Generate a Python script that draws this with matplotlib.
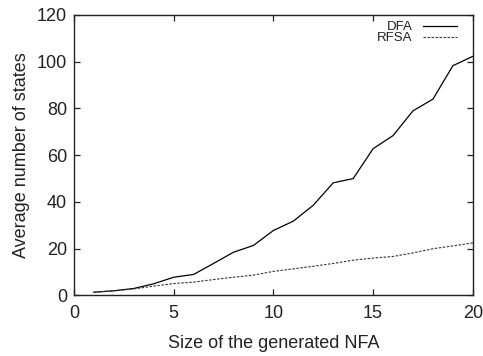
import matplotlib
matplotlib.use("Agg")
import matplotlib.pyplot as plt

plt.rcParams['font.family'] = ['Liberation Sans', 'DejaVu Sans']

# NFA size vs. average number of states of the resulting automata
nfa_size = list(range(1, 21))
dfa_states = [1.4, 2.0, 3.0, 5.0, 7.8, 9.0, 13.7, 18.5, 21.4, 27.8,
              31.8, 38.6, 48.2, 50.0, 62.8, 68.4, 79.0, 84.0, 98.3, 102.3]
rfsa_states = [1.4, 2.0, 2.8, 4.0, 5.1, 5.7, 6.8, 7.8, 8.7, 10.3,
               11.4, 12.5, 13.7, 15.1, 16.0, 16.7, 18.2, 20.0, 21.2, 22.5]

x_ticks = [0, 5, 10, 15, 20]
y_ticks = [0, 20, 40, 60, 80, 100, 120]

fig = plt.figure(figsize=(4.83, 3.56), dpi=100)
ax = fig.add_axes([0.153, 0.170, 0.826, 0.788])

ax.plot(nfa_size, dfa_states, color='black', linewidth=0.9, label='DFA')
ax.plot(nfa_size, rfsa_states, color='#333333', linewidth=0.8,
        linestyle=(0, (2.2, 1.4)), label='RFSA')

ax.set_xlim(0, 20)
ax.set_ylim(0, 120)
ax.set_xticks(x_ticks)
ax.set_yticks(y_ticks)
ax.tick_params(direction='in', length=4, width=0.9, top=True, right=True,
               labelsize=13, colors='#222222', pad=5)
ax.tick_params(axis='x', pad=7)
for sp in ax.spines.values():
    sp.set_linewidth(1.0)
    sp.set_color('#222222')

ax.set_xlabel('Size of the generated NFA', fontsize=13, color='#222222', labelpad=9.5)
ax.set_ylabel('Average number of states', fontsize=13, color='#222222', labelpad=5)

# gnuplot-style key: label first, sample line after it
leg = ax.legend(loc='upper right', bbox_to_anchor=(0.960, 0.978), frameon=False,
                fontsize=9.5, markerfirst=False, handlelength=2.6,
                handletextpad=0.75, labelspacing=-0.1,
                borderaxespad=0, borderpad=0)
for t in leg.get_texts():
    t.set_color('#222222')

fig.savefig('out.png', dpi=100)
